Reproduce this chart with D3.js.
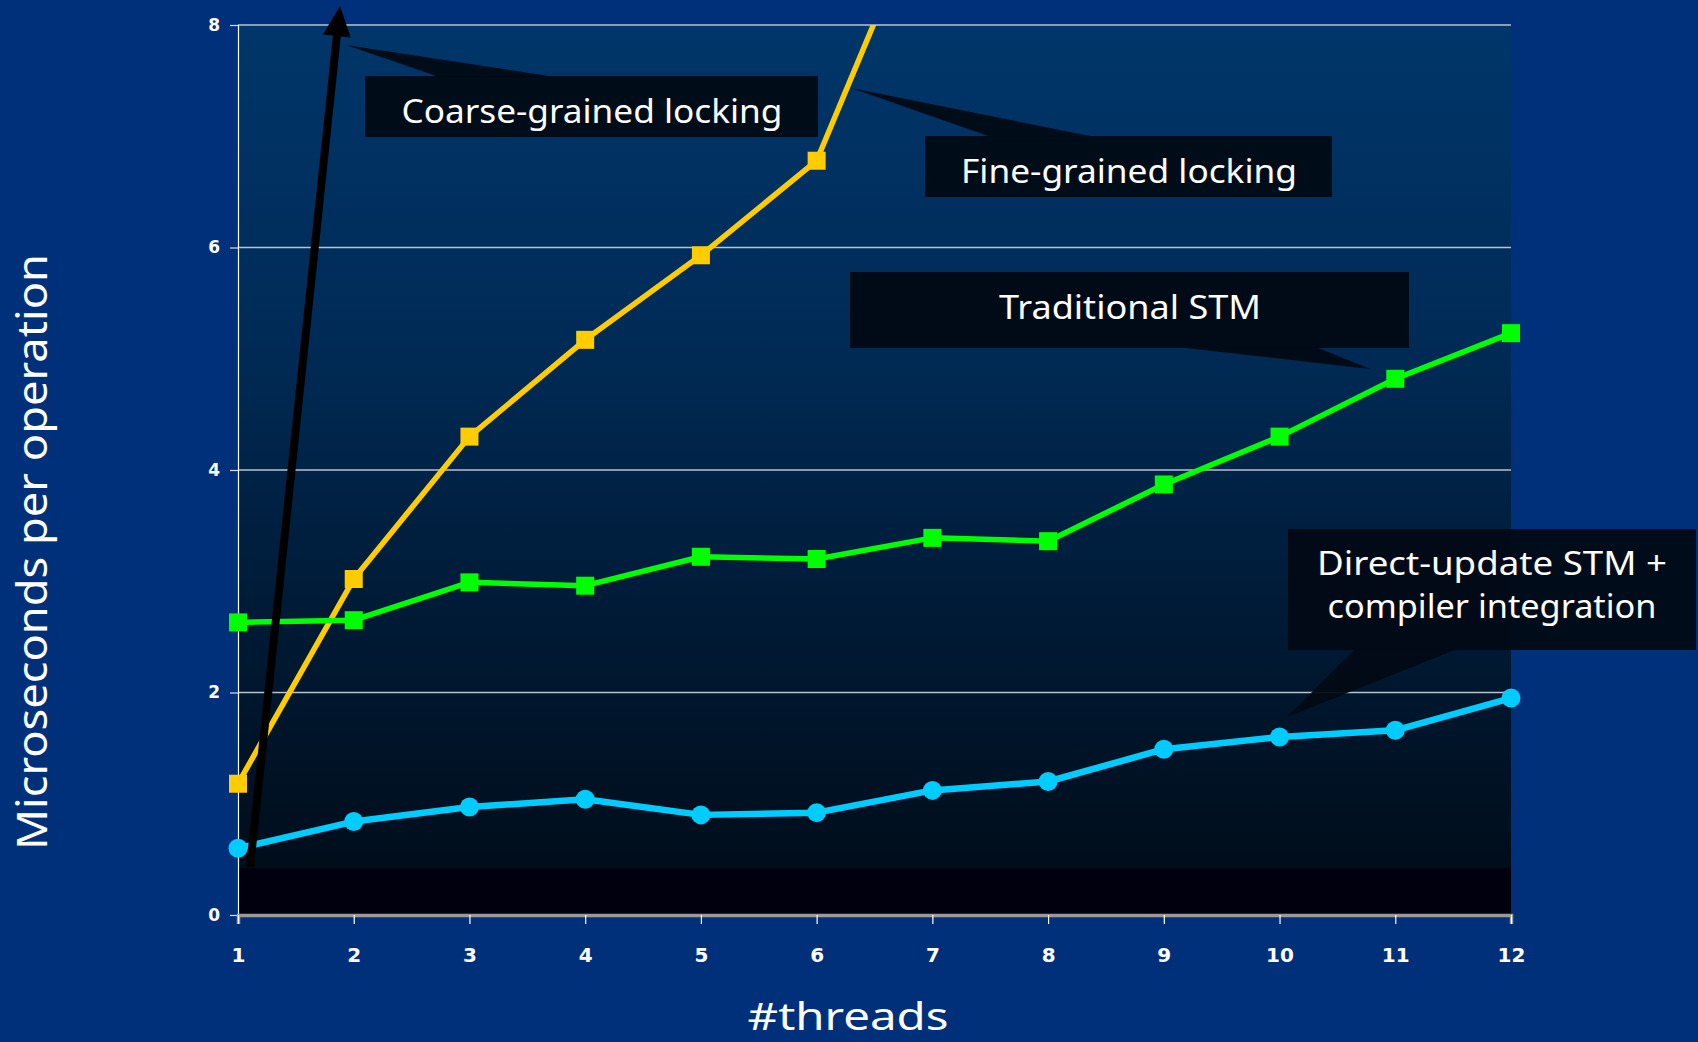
<!DOCTYPE html>
<html>
<head>
<meta charset="utf-8">
<script src="https://cdn.jsdelivr.net/npm/d3@7"></script>
<style>
  html, body { margin: 0; padding: 0; background: #00307a; }
  svg { display: block; }
</style>
</head>
<body>
<svg id="chart" width="1698" height="1042"></svg>
<script>
// ---------------- DATA ----------------
const threads = [1, 2, 3, 4, 5, 6, 7, 8, 9, 10, 11, 12];
const yTicks = [0, 2, 4, 6, 8];
// Fine-grained locking (yellow) - leaves the chart after 6 threads
const fineGrained = [1.18, 3.02, 4.30, 5.17, 5.93, 6.78, 9.27];
// Traditional STM (green)
const traditionalSTM = [2.63, 2.65, 2.99, 2.96, 3.22, 3.20, 3.39, 3.36, 3.87, 4.30, 4.82, 5.23];
// Direct-update STM + compiler integration (cyan)
const directUpdate = [0.60, 0.84, 0.97, 1.04, 0.90, 0.92, 1.12, 1.20, 1.49, 1.60, 1.66, 1.95];
// Coarse-grained locking: drawn as an arrow shooting off the chart (threads, value)
const coarseArrowFrom = [1.104, 0.43];
const coarseArrowTo = [1.881, 8.17];
const calloutTexts = {
  coarse: ["Coarse-grained locking"],
  fine: ["Fine-grained locking"],
  trad: ["Traditional STM"],
  direct: ["Direct-update STM +", "compiler integration"]
};
const xTitle = "#threads";
const yTitle = "Microseconds per operation";

// ---------------- LAYOUT ----------------
const svg = d3.select("#chart");
const W = 1698, H = 1042;
const x = d3.scaleLinear().domain([1, 12]).range([238, 1511]);
const y = d3.scaleLinear().domain([0, 8]).range([915, 25]);
const FONT = "'Noto Sans', 'Open Sans', sans-serif";

svg.append("rect").attr("width", W).attr("height", H).attr("fill", "#00307a");

const defs = svg.append("defs");
const grad = defs.append("linearGradient").attr("id", "plotGrad")
  .attr("x1", 0).attr("y1", 0).attr("x2", 0).attr("y2", 1);
[["0%", "#00366a"], ["35%", "#002b57"], ["65%", "#001b37"], ["100%", "#000b16"]]
  .forEach(([o, c]) => grad.append("stop").attr("offset", o).attr("stop-color", c));

defs.append("clipPath").attr("id", "clipTop")
  .append("rect").attr("x", 0).attr("y", y(8)).attr("width", W).attr("height", H - y(8));

// plot background
svg.append("rect")
  .attr("x", x(1)).attr("y", y(8))
  .attr("width", x(12) - x(1)).attr("height", y(0) - y(8))
  .attr("fill", "url(#plotGrad)");
svg.append("rect")
  .attr("x", x(1)).attr("y", y(0.42))
  .attr("width", x(12) - x(1)).attr("height", y(0) - y(0.42))
  .attr("fill", "#00000e");

// gridlines
svg.append("g").selectAll("line").data(yTicks.filter(d => d > 0)).join("line")
  .attr("x1", x(1)).attr("x2", x(12))
  .attr("y1", d => y(d)).attr("y2", d => y(d))
  .attr("stroke", "#b9c2cf").attr("stroke-width", 1.6);

// y axis
const yAxis = svg.append("g").attr("transform", `translate(${x(1)},0)`)
  .call(d3.axisLeft(y).tickValues(yTicks).tickSize(8).tickPadding(10).tickFormat(d3.format("d")));
yAxis.select(".domain").attr("stroke", "#ffffff").attr("stroke-width", 1.2);
yAxis.selectAll(".tick line").attr("stroke", "#d8dde6").attr("stroke-width", 1.2);
yAxis.selectAll(".tick text")
  .attr("fill", "#ffffff").attr("font-family", "'DejaVu Sans', sans-serif")
  .attr("font-weight", "bold").attr("font-size", 17);

// x axis
const xAxis = svg.append("g").attr("transform", `translate(0,${y(0)})`)
  .call(d3.axisBottom(x).tickValues(threads).tickSize(9).tickPadding(24).tickFormat(d3.format("d")));
xAxis.select(".domain").attr("stroke", "#9a9a9a").attr("stroke-width", 3.5);
xAxis.selectAll(".tick line").attr("stroke", "#ffffff").attr("stroke-width", 1.2);
xAxis.selectAll(".tick text")
  .attr("fill", "#ffffff").attr("font-family", "'DejaVu Sans', sans-serif")
  .attr("font-weight", "bold").attr("font-size", 20);

// series
const line = d3.line().x(d => x(d[0])).y(d => y(d[1]));
const seriesG = svg.append("g").attr("clip-path", "url(#clipTop)");

function drawSeries(vals, color, width, marker) {
  const pts = vals.map((v, i) => [threads[i], v]);
  seriesG.append("path").datum(pts)
    .attr("d", line).attr("fill", "none")
    .attr("stroke", color).attr("stroke-width", width).attr("stroke-linejoin", "round");
  const vis = pts.filter(p => p[1] <= 8);
  if (marker === "square") {
    seriesG.selectAll(null).data(vis).join("rect")
      .attr("x", d => x(d[0]) - 9).attr("y", d => y(d[1]) - 9)
      .attr("width", 18).attr("height", 18).attr("fill", color);
  } else {
    seriesG.selectAll(null).data(vis).join("circle")
      .attr("cx", d => x(d[0])).attr("cy", d => y(d[1])).attr("r", 9.5)
      .attr("fill", color);
  }
}
drawSeries(fineGrained, "#ffcc00", 5.5, "square");
drawSeries(traditionalSTM, "#00ff00", 5.5, "square");
drawSeries(directUpdate, "#00ccff", 6.5, "circle");

// coarse-grained locking arrow
(function () {
  const x0 = x(coarseArrowFrom[0]), y0 = y(coarseArrowFrom[1]);
  const x1 = x(coarseArrowTo[0]), y1 = y(coarseArrowTo[1]);
  const dx = x1 - x0, dy = y1 - y0, L = Math.hypot(dx, dy);
  const ux = dx / L, uy = dy / L, px = -uy, py = ux;
  const headL = 30, headW = 14;
  const bx = x1 - ux * headL, by = y1 - uy * headL;
  svg.append("line").attr("x1", x0).attr("y1", y0).attr("x2", bx + ux * 2).attr("y2", by + uy * 2)
    .attr("stroke", "#000000").attr("stroke-width", 8);
  svg.append("path")
    .attr("d", `M${x1},${y1}L${bx + px * headW},${by + py * headW}L${bx - px * headW},${by - py * headW}Z`)
    .attr("fill", "#000000");
})();

// callouts
function callout(box, base, tip, lines, baselines, cx, widths) {
  const g = svg.append("g");
  g.append("path")
    .attr("d", `M${box[0]},${box[1]}H${box[2]}V${box[3]}H${box[0]}Z`)
    .attr("fill", "#010a14").attr("fill-opacity", 0.94);
  g.append("path")
    .attr("d", `M${base[0]},${base[1]}L${tip[0]},${tip[1]}L${base[2]},${base[3]}Z`)
    .attr("fill", "#010a14").attr("fill-opacity", 0.94);
  lines.forEach((t, i) => {
    g.append("text").attr("x", cx).attr("y", baselines[i])
      .attr("text-anchor", "middle").attr("fill", "#ffffff")
      .attr("font-family", FONT).attr("font-size", 32)
      .attr("textLength", widths[i]).attr("lengthAdjust", "spacingAndGlyphs")
      .text(t);
  });
}
callout([365, 76, 818, 137], [439, 77, 555, 77], [346, 45], calloutTexts.coarse, [123], 592, [381]);
callout([925, 136, 1332, 197], [991, 137, 1095, 137], [851, 88], calloutTexts.fine, [183], 1129, [336]);
callout([850, 272, 1409, 348], [1177, 347, 1316, 347], [1370, 369], calloutTexts.trad, [319], 1130, [262]);
callout([1288, 529, 1696, 650], [1355, 649, 1457, 649], [1287, 717], calloutTexts.direct, [575, 618], 1492, [350, 329]);

// axis titles
svg.append("text")
  .attr("transform", `translate(47,552) rotate(-90)`)
  .attr("text-anchor", "middle").attr("fill", "#ffffff")
  .attr("font-family", FONT).attr("font-size", 41)
  .attr("textLength", 596).attr("lengthAdjust", "spacingAndGlyphs")
  .text(yTitle);
svg.append("text")
  .attr("x", 848).attr("y", 1030)
  .attr("text-anchor", "middle").attr("fill", "#ffffff")
  .attr("font-family", FONT).attr("font-size", 39)
  .attr("textLength", 201).attr("lengthAdjust", "spacingAndGlyphs")
  .text(xTitle);
</script>
</body>
</html>
